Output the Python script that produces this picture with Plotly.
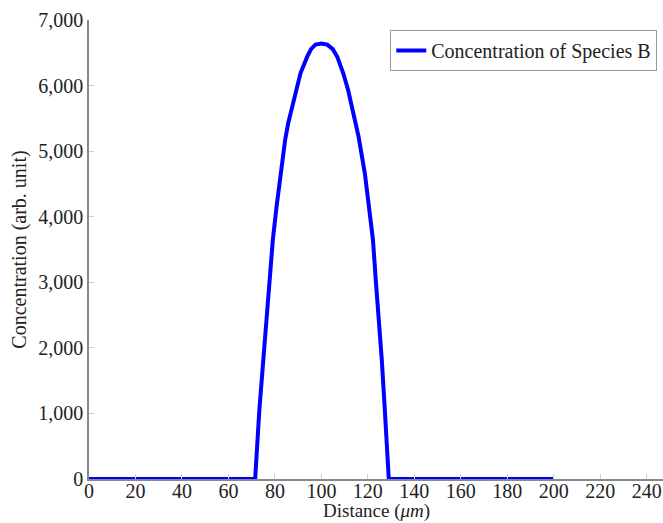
import plotly.graph_objects as go

distance = [0, 71.5, 73.3, 75.0, 76.4, 77.6, 79.1, 80.7, 82.4, 84.4, 85.7,
            87.5, 89.3, 91.0, 93.9, 95.6, 97.5, 100.0, 102.5, 104.8, 106.8,
            109.4, 111.5, 113.1, 114.8, 116.0, 118.7, 120.6, 122.2, 123.4,
            124.9, 126.0, 127.3, 129.0, 200]
concentration = [0, 0, 1050, 1815, 2425, 3035, 3645, 4153, 4662, 5170, 5424,
                 5678, 5932, 6187, 6441, 6560, 6625, 6640, 6625, 6560, 6441,
                 6187, 5932, 5678, 5424, 5221, 4662, 4153, 3645, 3035,
                 2425, 1815, 1052, 0, 0]
x_ticks = list(range(0, 241, 20))
y_ticks = list(range(0, 7001, 1000))

font_family = "Liberation Serif"

fig = go.Figure()
fig.add_trace(go.Scatter(
    x=distance, y=concentration, mode="lines",
    line=dict(color="#0000ff", width=4),
    name="Concentration of Species B",
))

fig.update_layout(
    width=663, height=523,
    margin=dict(l=89, r=0, t=20, b=44, autoexpand=False),
    paper_bgcolor="white", plot_bgcolor="white",
    font=dict(family=font_family, size=20, color="#222"),
    showlegend=True,
    legend=dict(
        x=0.99, y=0.978, xanchor="right", yanchor="top",
        bgcolor="white", bordercolor="#999", borderwidth=1,
        font=dict(family=font_family, size=20, color="#222"),
        itemwidth=30,
    ),
    xaxis=dict(
        range=[0, 247], tickvals=x_ticks, ticks="inside", ticklen=5,
        tickcolor="#ccc", showline=True, linecolor="#888", linewidth=1.5,
        showgrid=False, zeroline=False, mirror=False,
        ticklabelstandoff=-7,
    ),
    yaxis=dict(
        range=[0, 7000], tickvals=y_ticks, tickformat=",d", ticks="inside",
        ticklen=5, tickcolor="#ccc", showline=True, linecolor="#888",
        linewidth=1.5, showgrid=False, zeroline=False,
        title=dict(text="Concentration (arb. unit)", standoff=6,
                   font=dict(family=font_family, size=20)),
    ),
    annotations=[dict(
        text="Distance (<i>μm</i>)", xref="paper", yref="paper",
        x=0.5, y=-0.0959, xanchor="center", yanchor="bottom",
        borderpad=0, showarrow=False,
        font=dict(family=font_family, size=19, color="#222"),
    )],
)

fig.write_html(
    "out.html",
    config={"displayModeBar": False},
    post_script="document.body.style.margin='0';"
                "document.documentElement.style.overflow='hidden';",
)
